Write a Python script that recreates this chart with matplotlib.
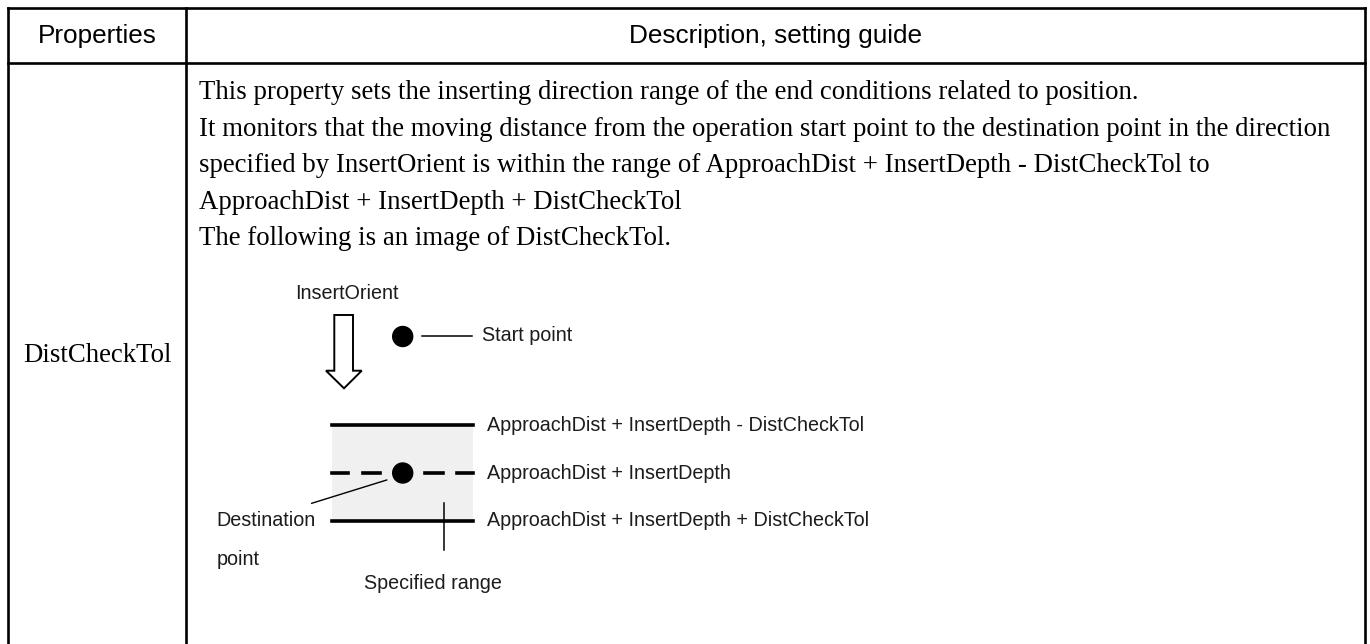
import matplotlib
matplotlib.use("Agg")
import matplotlib.pyplot as plt
from matplotlib.patches import Polygon, Circle, Rectangle

# ---- content ----
headers = ["Properties", "Description, setting guide"]
property_name = "DistCheckTol"
description_lines = [
    "This property sets the inserting direction range of the end conditions related to position.",
    "It monitors that the moving distance from the operation start point to the destination point in the direction",
    "specified by InsertOrient is within the range of ApproachDist + InsertDepth - DistCheckTol to",
    "ApproachDist + InsertDepth + DistCheckTol",
    "The following is an image of DistCheckTol.",
]
orient_label = "InsertOrient"
start_label = "Start point"
range_labels = [
    "ApproachDist + InsertDepth - DistCheckTol",
    "ApproachDist + InsertDepth",
    "ApproachDist + InsertDepth + DistCheckTol",
]
dest_label = ["Destination", "point"]
spec_label = "Specified range"

W, H = 1370, 644
fig = plt.figure(figsize=(W / 100, H / 100), dpi=100)
ax = fig.add_axes([0, 0, 1, 1])
ax.set_xlim(0, W)
ax.set_ylim(H, 0)
ax.axis("off")

SANS = "Liberation Sans"
SERIF = "Liberation Serif"
BLW = 1.9  # border line width (pt)

# ---- table grid ----
x_left, x_col, x_right = 8, 186, 1365
y_top, y_head = 8, 63
ax.plot([x_left, x_right], [y_top, y_top], color="black", lw=BLW, solid_capstyle="projecting")
ax.plot([x_left, x_right], [y_head, y_head], color="black", lw=BLW)
for x in (x_left, x_col, x_right):
    ax.plot([x, x], [y_top, H + 5], color="black", lw=BLW, solid_capstyle="projecting")

# ---- header ----
ax.text((x_left + x_col) / 2, 35.5, headers[0], family=SANS, fontsize=18.8,
        ha="center", va="center", color="black")
ax.text((x_col + x_right) / 2, 35.5, headers[1], family=SANS, fontsize=18.8,
        ha="center", va="center", color="black")

# ---- body text ----
ax.text((x_left + x_col) / 2, 355, property_name, family=SERIF, fontsize=19.3,
        ha="center", va="center", color="black")
line_h = 36.6
for i, line in enumerate(description_lines):
    ax.text(199, 99 + i * line_h, line, family=SERIF, fontsize=19.3,
            ha="left", va="baseline", color="black")

# ---- diagram ----
TC = "#1c1c1c"
DFS = 14.2

ax.text(346.7, 293, orient_label, family=SANS, fontsize=DFS, ha="center", va="center", color=TC)

# hollow arrow
arrow = Polygon([(334.3, 315), (353, 315), (353, 370.7), (361.7, 370.7), (344, 388.3),
                 (326, 370.7), (334.3, 370.7)], closed=True, facecolor="white",
                edgecolor="black", lw=1.4, joinstyle="miter")
ax.add_patch(arrow)

# start point
ax.add_patch(Circle((402.7, 336.5), 10, color="black"))
ax.plot([422.3, 471.7], [335.5, 335.5], color="black", lw=1.1)
ax.text(481.7, 335, start_label, family=SANS, fontsize=DFS, ha="left", va="center", color=TC)

# range band
bx0, bx1 = 332, 473
y_hi, y_mid, y_lo = 425, 473, 521
ax.add_patch(Rectangle((bx0, y_hi), bx1 - bx0, y_lo - y_hi, facecolor="#f0f0f0", edgecolor="none"))
ax.plot([bx0, bx1], [y_hi, y_hi], color="black", lw=2.6)
ax.plot([bx0, bx1], [y_lo, y_lo], color="black", lw=2.6)
for s0, s1 in [(332, 348), (363, 380), (425, 443), (457, 473)]:
    ax.plot([s0, s1], [y_mid, y_mid], color="black", lw=2.6)
ax.add_patch(Circle((402.7, 473), 10, color="black"))

# leader to destination point
ax.plot([386.7, 311.7], [480, 503.3], color="black", lw=1.0)
ax.text(216.7, 520, dest_label[0], family=SANS, fontsize=DFS, ha="left", va="center", color=TC)
ax.text(216.7, 559.3, dest_label[1], family=SANS, fontsize=DFS, ha="left", va="center", color=TC)

# specified range marker
ax.plot([444, 444], [503.3, 550], color="black", lw=1.1)
ax.text(433.3, 583.3, spec_label, family=SANS, fontsize=DFS, ha="center", va="center", color=TC)

for lbl, yy in zip(range_labels, [y_hi, y_mid, y_lo]):
    ax.text(487.3, yy, lbl, family=SANS, fontsize=DFS, ha="left", va="center", color=TC)

fig.savefig("out.png", dpi=100, facecolor="white")
